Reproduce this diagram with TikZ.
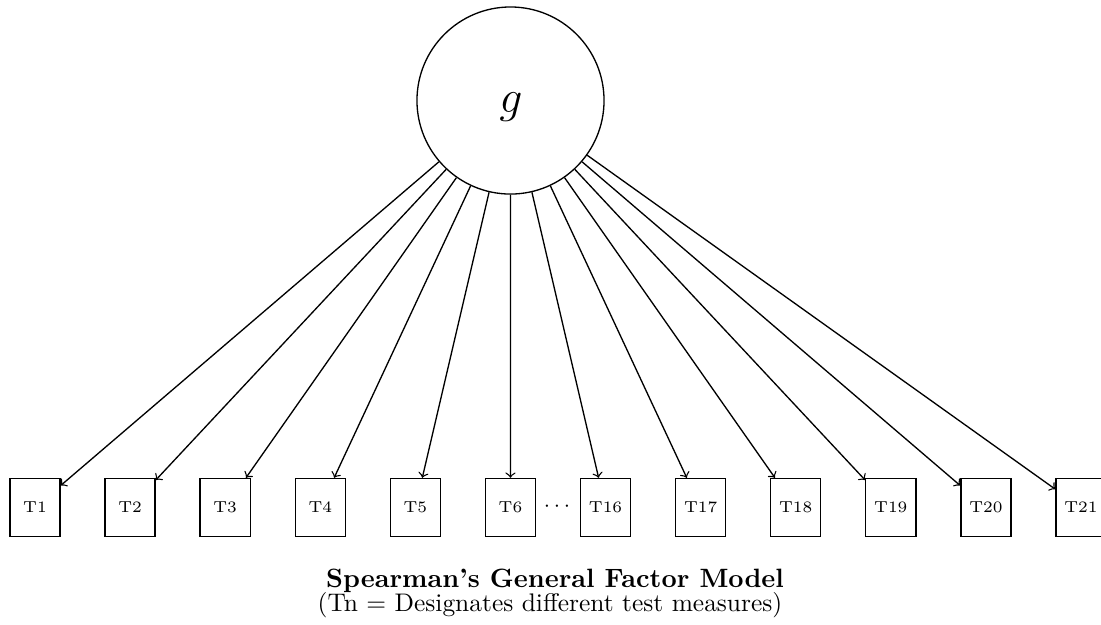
\documentclass[tikz,border=0pt]{standalone}
\begin{document}
\begin{tikzpicture}[x=0.3774pt,y=-0.3774pt,line width=0.5pt,
  testbox/.style={draw,minimum width=18.9pt,minimum height=21.9pt,inner sep=0pt,font=\fontsize{6}{7}\selectfont},
  factor/.style={circle,draw,minimum size=70.6pt,inner sep=0pt},
  load/.style={->},
  caption/.style={anchor=base,inner sep=0pt}]
\useasboundingbox (0,0) rectangle (1101,624);
\node[factor] (g) at (510.5,100.5) {};
\node[font=\LARGE,inner sep=0pt] (glabel) at (511,101) {$\vphantom{b}g$};
\foreach \n [count=\i from 0] in {1,2,3,4,5,6,16,17,18,19,20,21}
  \node[testbox] (T\n) at ({35+95.09*\i},507.5) {T\n};
\foreach \n in {1,2,3,4,5,6,16,17,18,19,20,21}
  \draw[load] (g) -- (T\n);
\node[font=\footnotesize] (dots) at (557,507) {$\cdots$};
\node[caption] (title) at (555,587) {\textbf{Spearman's General Factor Model}};
\node[caption,font=\fontsize{9.6}{11}\selectfont] (sub) at (550,611) {(Tn = Designates different test measures)};
\end{tikzpicture}
\end{document}
